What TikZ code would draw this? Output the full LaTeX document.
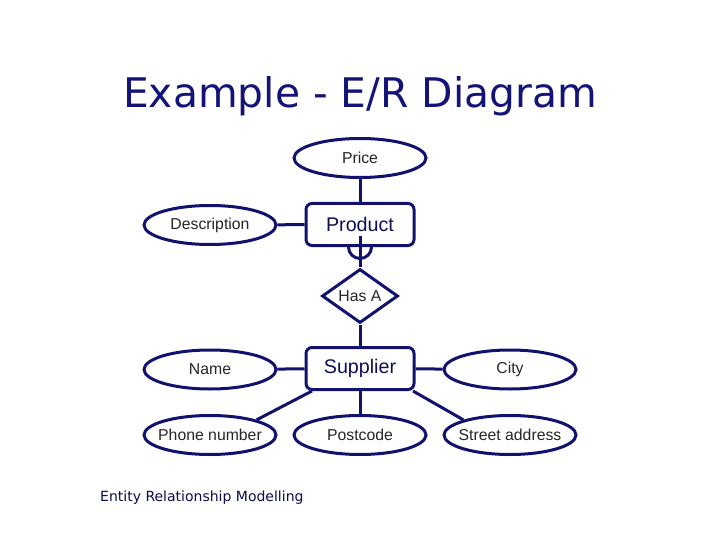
\documentclass[tikz,border=0pt]{standalone}
\usepackage{fontspec}
\setmainfont{Liberation Sans}
\newfontfamily\verd{DejaVu Sans}
\usetikzlibrary{shapes.geometric}
\definecolor{navy}{RGB}{18,18,110}
\definecolor{titlec}{RGB}{20,20,120}
\begin{document}
\begin{tikzpicture}[x=1pt,y=-1pt,
  every node/.style={inner sep=0pt},
  attr/.style={ellipse,draw=navy,line width=3pt,minimum width=132pt,minimum height=39pt,font=\fontsize{15.8}{18}\selectfont,text=black!85},
  ent/.style={rectangle,rounded corners=6pt,draw=navy,line width=3pt,minimum width=108pt,minimum height=42pt,font=\fontsize{19.7}{22}\selectfont,text=navy!80!black},
  rel/.style={diamond,draw=navy,line width=3pt,minimum width=76pt,minimum height=52pt,font=\fontsize{15.8}{18}\selectfont,text=black!85},
  conn/.style={draw=navy,line width=3pt}]
\path[use as bounding box,fill=white] (0,0) rectangle (720,540);
\node[text=titlec,font=\verd\fontsize{40.8}{44}\selectfont] (title) at (360,96) {Example - E/R Diagram};
\node[attr] (price) at (360,158) {Price};
\node[ent] (product) at (360,224.5) {Product};
\node[attr] (desc) at (210,225) {Description};
\node[rel] (hasa) at (360,296) {Has A};
\node[ent] (supplier) at (360,368.5) {Supplier};
\node[attr] (name) at (210,369.5) {Name};
\node[attr] (city) at (510,369.5) {City};
\node[attr] (phone) at (210,435) {\makebox[0pt]{Phone number}};
\node[attr] (post) at (360,435) {Postcode};
\node[attr] (street) at (510,435) {\makebox[0pt]{Street address}};
\node[anchor=west,text=navy!70!black,font=\verd\fontsize{14}{16}\selectfont] (foot) at (100,498) {Entity Relationship Modelling};
\draw[conn] (price) -- (product);
\draw[conn] (desc) -- (product);
\draw[conn] ([xshift=-11.5pt]product.south) arc[start angle=180,end angle=360,radius=11.5pt];
\coordinate (arcb) at ([yshift=11.5pt]product.south);
\draw[conn] (arcb) -- (hasa.north);
\draw[conn] (hasa.south) -- (supplier.north);
\draw[conn] (name) -- (supplier);
\draw[conn] (city) -- (supplier);
\draw[conn] (supplier) -- (post);
\draw[conn] ([xshift=-48pt]supplier.south) -- (phone.18);
\draw[conn] ([xshift=53pt]supplier.south) -- (street.162);
\end{tikzpicture}
\end{document}
